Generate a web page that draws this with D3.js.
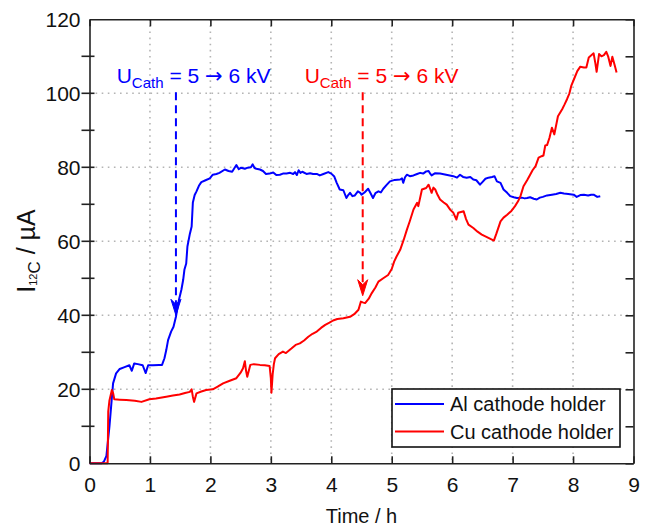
<!DOCTYPE html>
<html><head><meta charset="utf-8">
<script src="https://cdn.jsdelivr.net/npm/d3@7"></script>
<style>
body{margin:0;background:#fff;}
svg{font-family:"Liberation Sans",Arial,sans-serif;}
</style></head>
<body><svg id="c" width="649" height="529"></svg>
<script>
const alT = [0,0.2,0.24,0.28,0.33,0.39,0.44,0.5,0.58,0.66,0.7,0.74,0.8,0.88,0.93,0.97,1.05,1.15,1.2,1.24,1.27,1.3,1.35,1.39,1.43,1.45,1.48,1.52,1.55,1.57,1.6,1.62,1.66,1.69,1.71,1.74,1.77,1.81,1.85,1.92,1.99,2.04,2.1,2.15,2.24,2.3,2.36,2.43,2.47,2.51,2.57,2.62,2.67,2.7,2.73,2.76,2.82,2.87,2.92,2.98,3.04,3.09,3.15,3.2,3.26,3.32,3.37,3.4,3.43,3.46,3.49,3.52,3.59,3.65,3.7,3.76,3.81,3.87,3.95,4.0,4.05,4.09,4.14,4.2,4.25,4.28,4.31,4.35,4.39,4.44,4.48,4.5,4.55,4.61,4.65,4.69,4.73,4.78,4.82,4.86,4.92,4.97,5.05,5.14,5.17,5.19,5.22,5.25,5.3,5.36,5.42,5.47,5.52,5.57,5.61,5.64,5.66,5.72,5.8,5.9,5.96,6.02,6.08,6.13,6.18,6.24,6.3,6.35,6.4,6.46,6.5,6.55,6.6,6.66,6.7,6.74,6.8,6.85,6.91,6.96,7.02,7.07,7.15,7.2,7.24,7.29,7.35,7.4,7.45,7.5,7.57,7.65,7.72,7.79,7.85,7.92,8.01,8.06,8.12,8.18,8.25,8.3,8.34,8.4,8.45];
const alI = [0,0,0.5,2,10,21.6,24.3,25.5,26,26.5,25,27,26.8,26.5,24.4,26.5,26.5,26.6,26.6,28.4,30.6,33.3,35.6,36.9,39.6,41.5,44.2,46.9,49.6,52.3,54,58.6,62,64,70.5,72.5,73.5,75,76,76.5,77,78,78.2,78.5,79.4,79,78.8,80.6,79.5,79.9,79.6,79.9,80,80.8,79.8,79.6,79.4,79,78.2,78.3,78.6,77.9,78,78.3,78.3,78.5,78.2,78.7,77.9,79.2,78.5,78.8,78.2,78.4,78.2,78.2,77.8,78.2,78.7,78.3,77.5,75.8,74,73.8,71.7,72.5,73.1,72.2,72.4,73.5,73.1,72.6,73.2,74.2,73,71.7,73,73.5,73.2,74.2,75.3,76.2,76.6,76.7,77,75.8,77.3,78,77.6,77.8,78.2,78.5,78.3,78.9,79,78.2,77.8,78.4,78.3,78,77.8,77.6,77.2,78,77.4,77.2,77.4,76.7,76.5,75.3,76,76.9,77.2,77.4,77.6,76.2,75.8,74,73.1,72.2,71.9,71.7,71.8,71.6,71.7,71.9,71.5,71.3,71.8,72,72.4,72.6,72.8,73.1,72.9,72.8,72.6,72,72.5,72.6,72.4,72.6,72.6,72,72.2];
const cuT = [0,0.3,0.31,0.33,0.37,0.39,0.41,0.5,0.61,0.75,0.86,0.99,1.1,1.27,1.38,1.49,1.58,1.66,1.69,1.71,1.73,1.77,1.85,1.93,2.04,2.12,2.21,2.32,2.43,2.5,2.54,2.57,2.59,2.61,2.66,2.72,2.82,2.9,2.98,3.0,3.01,3.03,3.05,3.07,3.13,3.2,3.25,3.34,3.41,3.48,3.55,3.62,3.69,3.76,3.83,3.9,3.97,4.03,4.1,4.2,4.31,4.38,4.45,4.49,4.52,4.56,4.62,4.67,4.73,4.78,4.86,4.94,5.0,5.04,5.08,5.14,5.2,5.25,5.3,5.36,5.42,5.44,5.5,5.57,5.61,5.64,5.66,5.69,5.72,5.76,5.8,5.86,5.91,5.97,6.02,6.07,6.1,6.19,6.23,6.27,6.35,6.42,6.49,6.6,6.69,6.73,6.8,6.85,6.91,6.98,7.04,7.09,7.13,7.18,7.24,7.29,7.33,7.38,7.43,7.48,7.51,7.54,7.57,7.61,7.65,7.69,7.75,7.82,7.86,7.9,7.94,7.97,8.02,8.07,8.12,8.18,8.22,8.26,8.34,8.37,8.39,8.43,8.47,8.51,8.55,8.58,8.62,8.65,8.69,8.72];
const cuI = [0,0,14,17,19.8,19,17.3,17.2,17.1,16.9,16.6,17.3,17.5,18,18.3,18.6,19,19.3,20,18,16.6,18.9,19.4,19.8,20,20.7,21.6,22.3,23,24.5,25.7,27.6,25,23.4,26.6,26.8,26.6,26.5,26.3,23,19.1,24,26.8,28.4,29.5,30.2,29.8,31,32,32.4,33.2,34.2,35,35.6,36.6,37.4,38,38.6,39,39.2,39.6,40.3,41.5,43.7,43.5,43.3,44.5,46,47.5,49.1,50,50.9,52.5,54.5,55.9,57.7,60.5,63.1,65.5,68.6,70.4,69.5,74,74.4,75.3,74,73.1,74.5,74,72.5,71.3,70.5,69.9,68.5,67.7,65.9,67.7,68.1,66,64.5,63.6,62.6,61.8,60.9,60.2,62,65.4,66.4,67.2,68.2,69.5,70.8,72.2,74.9,76.5,78,79.2,80.3,82.6,83,83.2,85.9,86,88,90.7,88.9,93.8,95.7,97,98.4,100,102,104,106,107.2,107,107,109.7,110.8,108,105.8,110.6,110,110.3,111.2,110,107.4,109.9,107.5,105.6];

const seriesNames = ["Al cathode holder","Cu cathode holder"];
const seriesColors = ["#0000ff","#ff0000"];
const xTicks = [0,1,2,3,4,5,6,7,8,9];
const yTicks = [0,20,40,60,80,100,120];
const yMinorTicks = [10,30,50,70,90,110];
// annotations: arrow time, arrow start value, arrow tip value, label time, label value
const arrowT = [1.43, 4.52];
const arrowStartV = [100.3, 100.3];
const arrowTipV = [40, 45.3];
const labelT = [0.45, 3.56];
const labelV = [102.8, 102.8];

const svg = d3.select("#c");
const L=89.5, T=19.3, R=633.5, B=463.3;
const x = d3.scaleLinear().domain([0,9]).range([L,R]);
const y = d3.scaleLinear().domain([0,120]).range([B,T]);

// grid
const grid = svg.append("g").attr("stroke","#b4b4b4").attr("stroke-width",1.6).attr("stroke-dasharray","1.6,4.5");
xTicks.slice(1,-1).forEach(t=>grid.append("line").attr("x1",x(t)).attr("x2",x(t)).attr("y1",T).attr("y2",B));
yTicks.slice(1,-1).forEach(v=>grid.append("line").attr("x1",L).attr("x2",R).attr("y1",y(v)).attr("y2",y(v)));

// lines
const line = d3.line().x(d=>x(d[0])).y(d=>y(d[1]));
const alData = alT.map((t,i)=>[t,alI[i]]);
const cuData = cuT.map((t,i)=>[t,cuI[i]]);
svg.append("path").datum(alData).attr("d",line).attr("fill","none").attr("stroke",seriesColors[0]).attr("stroke-width",2).attr("stroke-linejoin","round");
svg.append("path").datum(cuData).attr("d",line).attr("fill","none").attr("stroke",seriesColors[1]).attr("stroke-width",2).attr("stroke-linejoin","round");

// axes
const ax = "#222";
const fs = 20, tfs = 21;
const gb = svg.append("g").attr("transform",`translate(0,${B})`).call(d3.axisBottom(x).tickValues(xTicks).tickFormat(d3.format("d")).tickSizeInner(-7).tickSizeOuter(0).tickPadding(14));
const gt = svg.append("g").attr("transform",`translate(0,${T})`).call(d3.axisTop(x).tickValues(xTicks).tickFormat("").tickSizeInner(-7).tickSizeOuter(0));
const gl = svg.append("g").attr("transform",`translate(${L},0)`).call(d3.axisLeft(y).tickValues(yTicks).tickFormat(d3.format("d")).tickSizeInner(0).tickSizeOuter(0).tickPadding(9));
const gr = svg.append("g").attr("transform",`translate(${R},0)`).call(d3.axisRight(y).tickValues(yTicks.concat(yMinorTicks)).tickFormat("").tickSizeInner(-8).tickSizeOuter(0));
[gb,gt,gl,gr].forEach(g=>{
  g.select(".domain").attr("stroke",ax).attr("stroke-width",1.6);
  g.selectAll(".tick line").attr("stroke",ax).attr("stroke-width",1.6);
  g.selectAll("text").attr("font-size",tfs).attr("fill","#111").attr("font-family","Liberation Sans, Arial, sans-serif");
});
// left axis crossing ticks (major + minor)
const lt = svg.append("g").attr("stroke",ax).attr("stroke-width",1.6);
yTicks.concat(yMinorTicks).filter(v=>v>0&&v<120).forEach(v=>lt.append("line").attr("x1",L-8).attr("x2",L+5).attr("y1",y(v)).attr("y2",y(v)));
gb.selectAll("text").attr("dy","0.71em");

// axis titles
svg.append("text").attr("x",(L+R)/2).attr("y",523).attr("text-anchor","middle").attr("font-size",fs).attr("fill","#111").text("Time / h");
const yt = svg.append("text").attr("transform",`translate(35,251) rotate(-90)`).attr("text-anchor","middle").attr("font-size",25).attr("fill","#111");
yt.append("tspan").text("I");
yt.append("tspan").attr("font-size",11).attr("dy",2).text("12");
yt.append("tspan").attr("font-size",17).attr("dy",3).text("C");
yt.append("tspan").attr("dy",-5).text(" / µA");

// annotations
const ann = svg.append("g");
arrowT.forEach((t,i)=>{
  const c = seriesColors[i];
  const xp = x(t), y0 = y(arrowStartV[i]), y1 = y(arrowTipV[i]);
  ann.append("line").attr("x1",xp).attr("x2",xp).attr("y1",y0).attr("y2",y1-9).attr("stroke",c).attr("stroke-width",2).attr("stroke-dasharray","8,5");
  ann.append("path").attr("d",`M${xp},${y1} L${xp-5},${y1-16} L${xp},${y1-11} L${xp+5},${y1-16} Z`).attr("fill",c).attr("stroke",c).attr("stroke-width",1);
  const tx = ann.append("text").attr("x",x(labelT[i])).attr("y",y(labelV[i])).attr("font-size",21).attr("fill",c);
  tx.append("tspan").text("U");
  tx.append("tspan").attr("font-size",15).attr("dy",5).text("Cath");
  tx.append("tspan").attr("dy",-5).text(" = 5 ");
  tx.append("tspan").attr("font-family","DejaVu Sans").text("\u2192");
  tx.append("tspan").text(" 6 kV");
});

// legend
const lg = svg.append("g");
lg.append("rect").attr("x",392).attr("y",389).attr("width",228).attr("height",58).attr("fill","#fff").attr("stroke","#111").attr("stroke-width",1.6);
seriesNames.forEach((n,i)=>{
  const yy = 404 + i*27.5;
  lg.append("line").attr("x1",395).attr("x2",444).attr("y1",yy).attr("y2",yy).attr("stroke",seriesColors[i]).attr("stroke-width",2);
  lg.append("text").attr("x",450).attr("y",yy+7).attr("font-size",fs).attr("fill","#111").text(n);
});
</script></body></html>
